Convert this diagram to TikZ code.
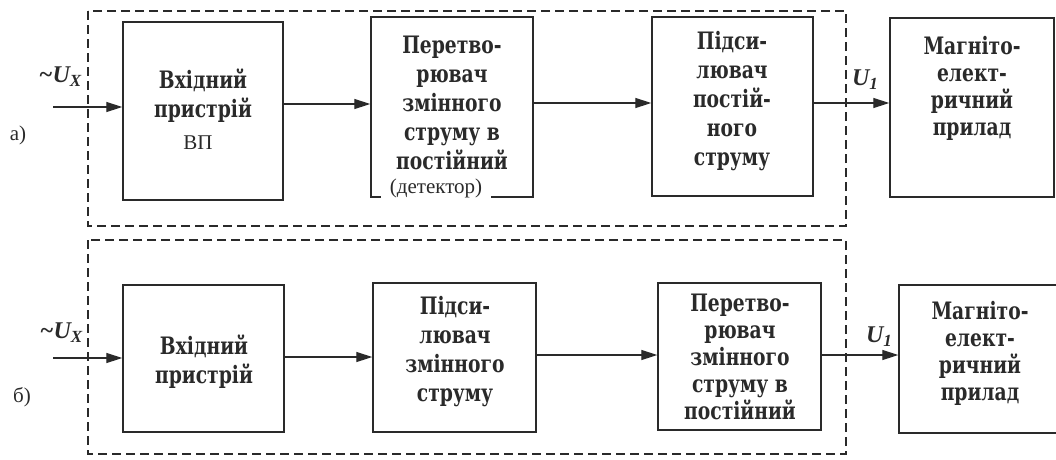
\documentclass[tikz,border=0pt]{standalone}
\usepackage{fontspec}
\setmainfont{Liberation Serif}
\newfontfamily\blockfont[FakeStretch=0.78]{DejaVu Serif}
\usetikzlibrary{arrows.meta}
\definecolor{ink}{HTML}{2A2A2A}
\begin{document}
\begin{tikzpicture}[x=1pt,y=-1pt,
  blockbox/.style={draw=ink, line width=1.4pt, inner sep=0pt},
  blocktext/.style={font=\blockfont\bfseries\fontsize{24}{29}\selectfont, align=center, text=ink, inner sep=0pt},
  tighttext/.style={font=\blockfont\bfseries\fontsize{24}{27}\selectfont, align=center, text=ink, inner sep=0pt},
  plaintext/.style={font=\fontsize{21}{23}\selectfont, text=ink, inner sep=0pt},
  sigtext/.style={font=\bfseries\itshape\fontsize{24}{26}\selectfont, text=ink, inner sep=0pt},
  frame/.style={draw=ink, line width=2.5pt, dash pattern=on 9pt off 5pt},
  arr/.style={draw=ink, line width=1.2pt, -{Triangle[length=16pt,width=10pt]}}
]
\useasboundingbox (0,0) rectangle (1056,459);

% ---------------- scheme a) ----------------
\draw[frame] (88,11) rectangle (846,226);

\node[blockbox, minimum width=160pt, minimum height=178pt] (a1) at (203,111) {};
\node[blockbox, minimum width=162pt, minimum height=180pt] (a2) at (452,107) {};
\node[blockbox, minimum width=161pt, minimum height=179pt] (a3) at (732.5,106.5) {};
\node[blockbox, minimum width=164pt, minimum height=179pt] (a4) at (972,107.5) {};

\node[blocktext] (a1t) at (203,96) {Вхідний\\пристрій};
\node[plaintext] (a1n) at (198,143) {ВП};
\node[blocktext] (a2t) at (452,103) {Перетво-\\рювач\\змінного\\струму в\\постійний};
\node[plaintext, fill=white, inner xsep=9pt, inner ysep=4pt] (a2n) at (436,188) {(детектор)};
\node[blocktext] (a3t) at (732,101) {Підси-\\лювач\\постій-\\ного\\струму};
\node[tighttext] (a4t) at (972,88) {Магніто-\\елект-\\ричний\\прилад};

\coordinate (ain) at (53,107);
\node[sigtext] (aux) at (60,77) {\textasciitilde U\raisebox{-0.35ex}{\fontsize{17}{17}\selectfont X}};
\node[sigtext] (au1) at (865,80) {U\raisebox{-0.35ex}{\fontsize{17}{17}\selectfont 1}};
\node[plaintext] (alab) at (18,135) {а)};

\draw[arr] (ain) -- (a1.west |- ain);
\draw[arr] (a1.east |- 0,104) -- (a2.west |- 0,104);
\draw[arr] (a2.east |- 0,103) -- (a3.west |- 0,103);
\draw[arr] (a3.east |- 0,103) -- (a4.west |- 0,103);

% ---------------- scheme б) ----------------
\draw[frame] (88,240) rectangle (846,454);

\node[blockbox, minimum width=161pt, minimum height=147pt] (b1) at (203.5,358.5) {};
\node[blockbox, minimum width=163pt, minimum height=149pt] (b2) at (454.5,357.5) {};
\node[blockbox, minimum width=163pt, minimum height=147pt] (b3) at (739.5,356.5) {};
\node[blockbox, minimum width=160pt, minimum height=148pt] (b4) at (979,359) {};

\node[blocktext] (b1t) at (204,362) {Вхідний\\пристрій};
\node[blocktext] (b2t) at (455,352) {Підси-\\лювач\\змінного\\струму};
\node[tighttext] (b3t) at (740,357) {Перетво-\\рювач\\змінного\\струму в\\постійний};
\node[tighttext] (b4t) at (980,353) {Магніто-\\елект-\\ричний\\прилад};

\coordinate (bin) at (53,358);
\node[sigtext] (bux) at (61,333) {\textasciitilde U\raisebox{-0.35ex}{\fontsize{17}{17}\selectfont X}};
\node[sigtext] (bu1) at (879,337) {U\raisebox{-0.35ex}{\fontsize{17}{17}\selectfont 1}};
\node[plaintext] (blab) at (22,397) {б)};

\draw[arr] (bin) -- (b1.west |- bin);
\draw[arr] (b1.east |- 0,357) -- (b2.west |- 0,357);
\draw[arr] (b2.east |- 0,355) -- (b3.west |- 0,355);
\draw[arr] (b3.east |- 0,355) -- (b4.west |- 0,355);
\end{tikzpicture}
\end{document}
